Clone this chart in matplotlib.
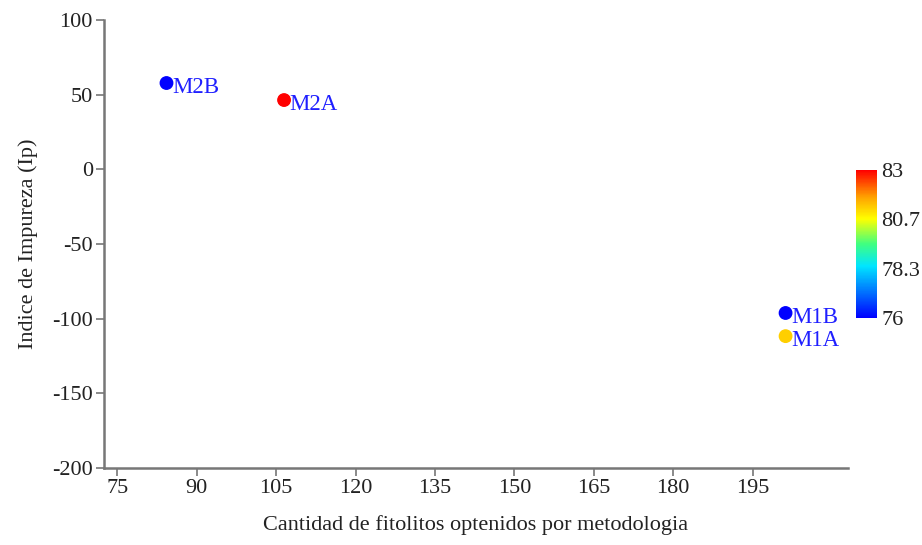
import numpy as np
import matplotlib
matplotlib.use("Agg")
import matplotlib.pyplot as plt
from matplotlib.colors import LinearSegmentedColormap, Normalize

plt.rcParams['font.family'] = ['Liberation Serif', 'DejaVu Serif']
plt.rcParams['axes.unicode_minus'] = False

# data
labels = ['M2B', 'M2A', 'M1B', 'M1A']
fitolitos = [84.3, 106.5, 201.2, 201.2]
impureza = [57.8, 46.4, -96.2, -111.7]
color_val = [76.0, 83.0, 76.0, 81.2]

cbar_ticks = [76, 78.3, 80.7, 83]
x_ticks = [75, 90, 105, 120, 135, 150, 165, 180, 195]
y_ticks = [100, 50, 0, -50, -100, -150, -200]

cmap = LinearSegmentedColormap.from_list('bcgyr', [
    (0.0, '#0000ff'), (0.35, '#00e5ff'), (0.5, '#40ff80'),
    (0.67, '#ffff00'), (0.82, '#ffa000'), (1.0, '#ff0000')])
norm = Normalize(76, 83)

fig = plt.figure(figsize=(9.22, 5.45), dpi=100)
ax = fig.add_axes([0.1128, 0.1413, 0.807, 0.822])

ax.scatter(fitolitos, impureza, c=color_val, cmap=cmap, norm=norm, s=80, zorder=3)
for lab, x, y in zip(labels, fitolitos, impureza):
    ax.annotate(lab, (x, y), xytext=(4, -3), textcoords='offset points',
                ha='left', va='center', color='#1f1fff', fontsize=16.5)

ax.set_xlim(72.5, 213)
ax.set_ylim(-200, 100)
ax.set_xticks(x_ticks)
ax.set_yticks(y_ticks)
for s in ['top', 'right']:
    ax.spines[s].set_visible(False)
for s in ['left', 'bottom']:
    ax.spines[s].set_color('#777777')
    ax.spines[s].set_linewidth(1.8)
ax.tick_params(colors='#777777', labelcolor='#222222', labelsize=16, width=1.2, length=6, pad=2)
ax.set_xlabel('Cantidad de fitolitos optenidos por metodologia', fontsize=16, color='#222222', labelpad=12)
ax.set_ylabel('Indice de Impureza (Ip)', fontsize=16, color='#222222', labelpad=10)

cax = fig.add_axes([856 / 922, 1 - 318 / 545, 21 / 922, 148 / 545])
sm = plt.cm.ScalarMappable(norm=norm, cmap=cmap)
cb = fig.colorbar(sm, cax=cax, ticks=cbar_ticks)
cb.set_ticklabels(['76', '78.3', '80.7', '83'])
cb.outline.set_visible(False)
cax.tick_params(length=0, labelsize=16, labelcolor='#222222', pad=3)

fig.savefig('out.png', dpi=100)
